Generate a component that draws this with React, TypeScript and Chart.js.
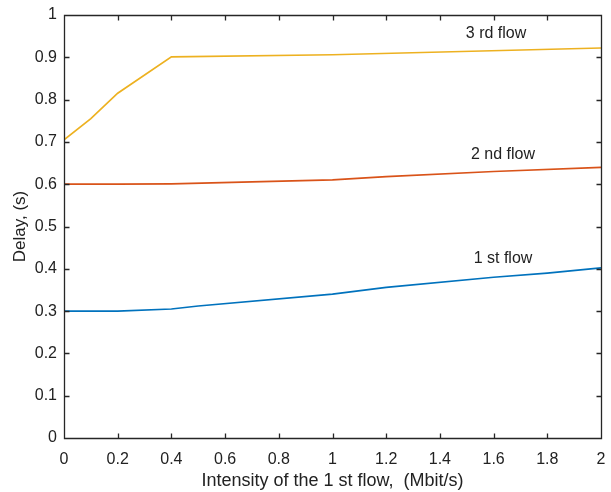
import React, { useEffect, useRef } from "react";
import { Chart, registerables } from "chart.js";

Chart.register(...registerables);

const flow1X = [0, 0.2, 0.4, 0.5, 1, 1.2, 1.6, 1.8, 2];
const flow1Y = [0.3, 0.3, 0.305, 0.312, 0.34, 0.356, 0.38, 0.39, 0.402];
const flow2X = [0, 0.2, 0.4, 1, 1.2, 1.6, 2];
const flow2Y = [0.6, 0.6, 0.601, 0.61, 0.618, 0.63, 0.64];
const flow3X = [0, 0.1, 0.2, 0.4, 1, 2];
const flow3Y = [0.705, 0.755, 0.815, 0.901, 0.906, 0.922];

const seriesNames = ["1 st flow", "2 nd flow", "3 rd flow"];
const labelX = [1.635, 1.635, 1.609];
const labelY = [0.423, 0.671, 0.955];
const colors = ["#0072BD", "#D95319", "#EDB120"];

const xTitle = "Intensity of the 1 st flow,  (Mbit/s)";
const yTitle = "Delay, (s)";

const FONT = "'Liberation Sans', Arial, sans-serif";

const fmt = (v: number) => String(Number(Number(v).toFixed(1)));

const framePlugin = {
  id: "frame",
  afterDraw(chart: any) {
    const { ctx, chartArea: a, scales } = chart;
    const xs = scales.x;
    const ys = scales.y;
    ctx.save();
    ctx.globalAlpha = 1;
    ctx.setLineDash([]);
    ctx.strokeStyle = "#262626";
    ctx.lineWidth = 1.3;
    const l = Math.round(a.left) + 0.5;
    const r = Math.round(a.right) + 0.5;
    const t = Math.round(a.top) + 0.5;
    const b = Math.round(a.bottom) + 0.5;
    ctx.beginPath();
    ctx.moveTo(l, t);
    ctx.lineTo(r, t);
    ctx.lineTo(r, b);
    ctx.lineTo(l, b);
    ctx.closePath();
    ctx.stroke();
    const L = 5;
    ctx.beginPath();
    for (let i = 1; i < 10; i++) {
      const px = Math.round(xs.getPixelForValue(i * 0.2)) + 0.5;
      ctx.moveTo(px, b);
      ctx.lineTo(px, b - L);
      ctx.moveTo(px, t);
      ctx.lineTo(px, t + L);
    }
    for (let i = 1; i < 10; i++) {
      const py = Math.round(ys.getPixelForValue(i * 0.1)) + 0.5;
      ctx.moveTo(l, py);
      ctx.lineTo(l + L, py);
      ctx.moveTo(r, py);
      ctx.lineTo(r - L, py);
    }
    ctx.stroke();
    ctx.fillStyle = "#222";
    ctx.font = `16px ${FONT}`;
    ctx.textAlign = "center";
    ctx.textBaseline = "middle";
    for (let i = 0; i < seriesNames.length; i++) {
      ctx.fillText(seriesNames[i], xs.getPixelForValue(labelX[i]), ys.getPixelForValue(labelY[i]));
    }
    ctx.restore();
  },
};

export default function App() {
  const ref = useRef<HTMLCanvasElement>(null);
  useEffect(() => {
    if (!ref.current) return;
    const mk = (xs: number[], ys: number[]) => xs.map((x, i) => ({ x, y: ys[i] }));
    const chart = new Chart(ref.current, {
      type: "line",
      data: {
        datasets: [
          { label: seriesNames[0], data: mk(flow1X, flow1Y), borderColor: colors[0], borderWidth: 1.7, pointRadius: 0, fill: false, tension: 0 },
          { label: seriesNames[1], data: mk(flow2X, flow2Y), borderColor: colors[1], borderWidth: 1.7, pointRadius: 0, fill: false, tension: 0 },
          { label: seriesNames[2], data: mk(flow3X, flow3Y), borderColor: colors[2], borderWidth: 1.7, pointRadius: 0, fill: false, tension: 0 },
        ],
      },
      options: {
        animation: false,
        responsive: false,
        maintainAspectRatio: false,
        layout: { padding: { left: 0, right: 10, top: 15, bottom: 0 } },
        plugins: { legend: { display: false }, tooltip: { enabled: false } },
        scales: {
          x: {
            type: "linear",
            min: 0,
            max: 2,
            grid: { display: false, drawTicks: false },
            border: { display: false },
            ticks: {
              stepSize: 0.2,
              padding: 12,
              color: "#222",
              font: { family: FONT, size: 16 },
              maxRotation: 0,
              autoSkip: false,
              callback: (v: any) => fmt(v),
            },
            title: { display: true, text: xTitle, color: "#222", font: { family: FONT, size: 18 }, padding: { top: 0, bottom: 0 } },
            afterFit: (s: any) => { s.height = 54; s.paddingLeft = 0; s.paddingRight = 0; },
          },
          y: {
            type: "linear",
            min: 0,
            max: 1,
            grid: { display: false, drawTicks: false },
            border: { display: false },
            ticks: {
              stepSize: 0.1,
              padding: 7,
              color: "#222",
              font: { family: FONT, size: 16 },
              autoSkip: false,
              callback: (v: any) => fmt(v),
            },
            title: { display: true, text: yTitle, color: "#222", font: { family: FONT, size: 17 }, padding: { top: 10, bottom: 0 } },
            afterFit: (s: any) => { s.width = 64; s.paddingTop = 0; s.paddingBottom = 0; },
          },
        },
      },
      plugins: [framePlugin],
    });
    return () => chart.destroy();
  }, []);
  return (
    <div style={{ position: "fixed", left: 0, top: 0, width: 611, height: 492, background: "#fff" }}>
      <canvas ref={ref} width={611} height={492} style={{ width: 611, height: 492 }} />
    </div>
  );
}
